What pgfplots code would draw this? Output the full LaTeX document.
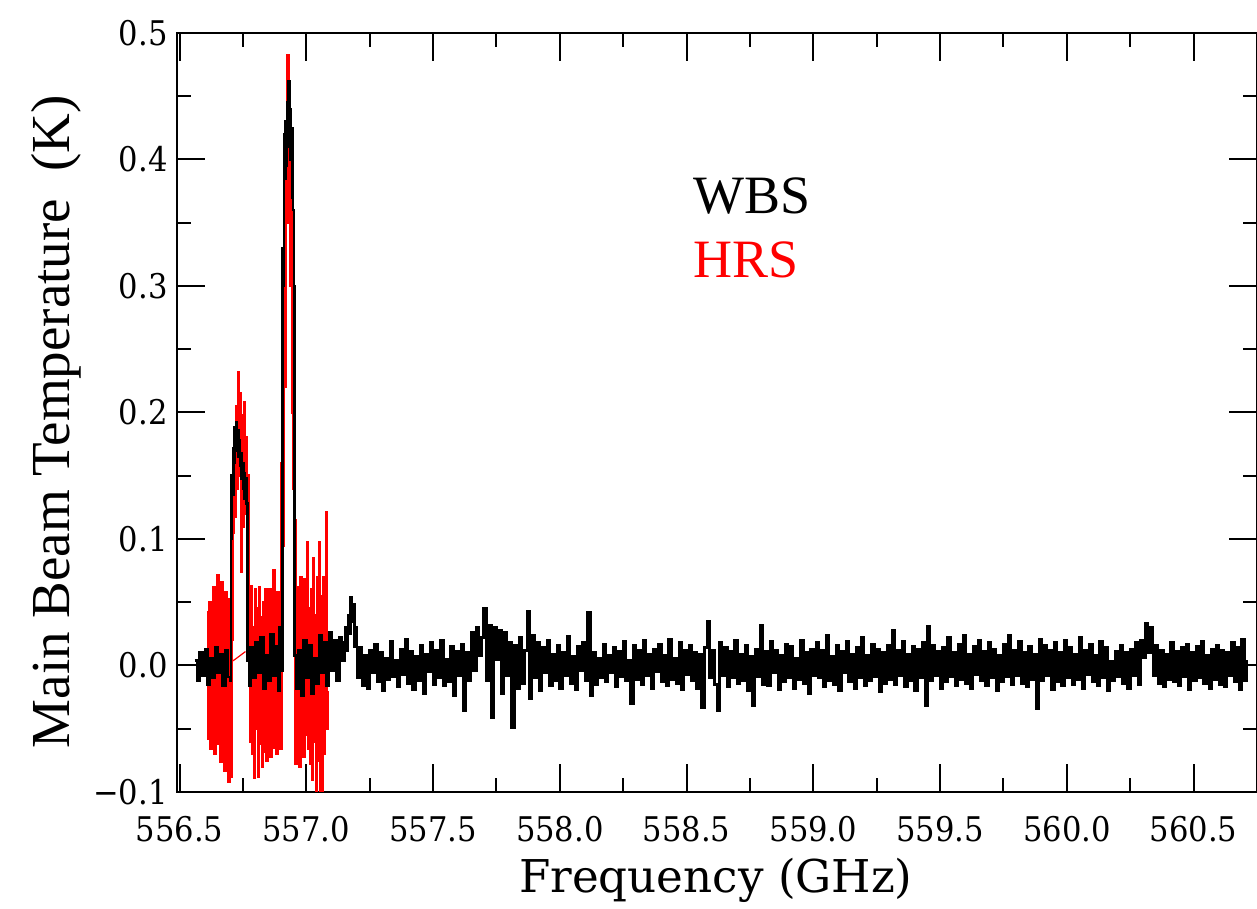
\documentclass[border=0pt]{standalone}
\usepackage{fontspec}
\setmainfont{DejaVu Serif}
\newfontfamily\tickfont{DejaVu Serif Condensed}
\newfontfamily\timesfont{Liberation Serif}
\usepackage{pgfplots}
\pgfplotsset{compat=1.18}
\begin{document}
\begin{tikzpicture}
\begin{axis}[
  at={(0,0)}, anchor=south west,
  scale only axis, width=540pt, height=379.5pt,
  xmin=556.49, xmax=560.75, ymin=-0.1, ymax=0.5,
  xtick={556.5,557,557.5,558,558.5,559,559.5,560,560.5},
  xticklabels={556.5,557.0,557.5,558.0,558.5,559.0,559.5,560.0,560.5},
  ytick={-0.1,0,0.1,0.2,0.3,0.4,0.5},
  yticklabels={−0.1,0.0,0.1,0.2,0.3,0.4,0.5},
  minor x tick num=1, minor y tick num=1,
  tick pos=both, tick align=inside,
  major tick length=14pt, minor tick length=7pt,
  tick style={black, line width=1pt},
  axis line style={black, line width=1pt},
  ticklabel style={font=\tickfont\fontsize{17}{20}\selectfont},
  xticklabel style={yshift=-8.8pt},
  yticklabel style={xshift=-1.2pt},
  xlabel={Frequency (GHz)},
  ylabel={Main Beam Temperature\ \ (K)},
  xlabel style={font=\fontsize{22.6}{26}\selectfont, at={(axis description cs:0.499,-0.1318)}, anchor=base},
  ylabel style={font=\timesfont\fontsize{27.5}{32}\selectfont, at={(axis description cs:-0.0991,0.488)}, anchor=base},
]
% HRS (red)
\addplot[red, line width=1.3pt, const plot, forget plot] coordinates {
(556.610,0.042)(556.614,-0.058)(556.618,0.050)(556.622,-0.066)(556.626,0.038)(556.630,-0.048)(556.634,0.062)(556.638,-0.070)
(556.642,0.055)(556.646,-0.052)(556.650,0.071)(556.654,-0.062)(556.658,0.040)(556.662,-0.076)(556.666,0.066)(556.670,-0.058)
(556.674,0.030)(556.678,-0.083)(556.682,0.058)(556.686,-0.070)(556.690,0.045)(556.694,-0.092)(556.698,0.052)(556.702,-0.088)
(556.706,0.020)
(556.710,0.105)(556.714,0.172)(556.718,0.118)(556.722,0.205)(556.726,0.140)(556.730,0.232)(556.734,0.150)(556.738,0.215)
(556.742,0.074)(556.746,0.198)(556.750,0.110)(556.754,0.208)(556.758,0.120)(556.762,0.180)(556.766,0.098)(556.770,0.150)
(556.774,0.060)
(556.778,-0.060)(556.782,0.063)(556.786,-0.070)(556.790,0.030)(556.794,-0.089)(556.798,0.060)(556.802,-0.050)(556.806,0.045)
(556.810,-0.088)(556.814,0.062)(556.818,-0.062)(556.822,0.038)(556.826,-0.080)(556.830,0.050)(556.834,-0.068)(556.838,0.060)
(556.842,-0.075)(556.846,0.035)(556.850,-0.058)(556.854,0.060)(556.858,-0.072)(556.862,0.048)(556.866,-0.065)(556.870,0.075)
(556.874,-0.056)(556.878,0.040)(556.882,-0.070)(556.886,0.058)(556.890,-0.062)(556.894,0.030)(556.898,-0.066)
(556.902,0.160)(556.906,0.095)(556.910,0.300)(556.914,0.220)(556.918,0.420)(556.922,0.350)(556.926,0.482)(556.930,0.380)
(556.934,0.440)(556.938,0.300)(556.942,0.400)(556.946,0.200)(556.950,0.140)(556.954,0.115)
(556.958,-0.078)(556.962,0.062)(556.966,-0.050)(556.970,0.040)(556.974,-0.080)(556.978,0.070)(556.982,-0.060)(556.986,0.050)
(556.990,-0.072)(556.994,0.068)(556.998,-0.055)(557.002,0.097)(557.006,-0.066)(557.010,0.045)(557.014,-0.078)(557.018,0.060)
(557.022,-0.090)(557.026,0.085)(557.030,-0.060)(557.034,0.040)(557.038,-0.102)(557.042,0.070)(557.046,-0.075)(557.050,0.097)
(557.054,-0.110)(557.058,0.055)(557.062,-0.105)(557.066,0.070)(557.070,-0.070)(557.074,0.060)(557.078,0.121)(557.082,-0.050)
(557.086,-0.020)
};
\addplot[red, line width=0.6pt, forget plot] coordinates {(556.705,0.003)(556.720,0.005)(556.740,0.008)(556.760,0.011)};
% WBS (black)
\addplot[black, line width=1.35pt, const plot, forget plot] coordinates {
(556.56,0.004)(556.57,-0.012)(556.58,0.010)(556.59,-0.008)(556.60,0.013)(556.61,-0.015)(556.62,0.006)(556.63,-0.010)
(556.64,0.014)(556.65,-0.006)(556.66,0.009)(556.67,-0.016)(556.68,0.012)(556.69,-0.009)
(556.700,-0.012)(556.703,0.100)(556.706,0.150)(556.709,0.135)(556.712,0.172)(556.715,0.160)(556.718,0.188)(556.721,0.170)
(556.724,0.192)(556.727,0.175)(556.730,0.186)(556.733,0.165)(556.736,0.178)(556.739,0.158)(556.742,0.168)(556.745,0.148)
(556.748,0.160)(556.751,0.140)(556.754,0.152)(556.757,0.132)(556.760,0.148)(556.763,0.128)(556.767,0.004)
(556.774,-0.016)(556.78,0.014)(556.79,-0.010)(556.80,0.018)(556.81,-0.006)(556.82,0.022)(556.83,-0.018)(556.84,0.008)
(556.85,-0.012)(556.86,0.025)(556.87,-0.008)(556.88,0.015)(556.89,-0.020)(556.895,0.030)
(556.900,-0.004)(556.906,0.330)(556.909,0.300)(556.912,0.420)(556.915,0.385)(556.918,0.430)(556.921,0.395)(556.924,0.445)
(556.927,0.410)(556.930,0.462)(556.933,0.420)(556.936,0.440)(556.939,0.400)(556.942,0.425)(556.945,0.370)(556.948,0.360)
(556.951,0.300)(556.954,0.008)
(556.96,-0.018)(556.97,0.012)(556.98,-0.024)(556.99,0.020)(557.00,-0.010)(557.01,0.016)(557.02,-0.022)(557.03,0.006)
(557.04,-0.014)(557.05,0.024)(557.06,-0.006)(557.07,0.018)(557.08,-0.016)(557.09,0.026)(557.10,-0.004)(557.11,0.020)
(557.12,-0.012)(557.13,0.022)(557.14,0.004)(557.15,0.018)
(557.155,0.030)(557.160,0.012)(557.165,0.040)(557.170,0.025)(557.175,0.054)(557.180,0.035)(557.185,0.048)(557.190,0.015)
(557.195,0.030)(557.200,-0.010)
(557.21,0.014)(557.22,-0.016)(557.23,0.008)(557.24,-0.018)(557.25,0.012)(557.26,-0.006)(557.27,0.017)(557.28,-0.013)(557.29,0.010)(557.30,-0.020)
(557.31,0.006)(557.32,-0.011)(557.33,0.019)(557.34,-0.009)(557.35,0.004)(557.36,-0.017)(557.37,0.013)(557.38,-0.007)(557.39,0.021)(557.40,-0.014)
(557.41,0.011)(557.42,-0.019)(557.43,0.007)(557.44,-0.012)(557.45,0.016)(557.46,-0.022)(557.47,0.009)(557.48,-0.005)(557.49,0.018)(557.50,-0.015)
(557.51,0.012)(557.52,-0.010)(557.53,0.020)(557.54,-0.016)(557.55,0.005)(557.56,-0.013)(557.57,0.015)(557.58,-0.024)(557.59,0.011)(557.60,-0.008)
(557.61,0.017)(557.62,-0.036)(557.63,0.010)(557.64,-0.012)(557.65,0.026)(557.66,-0.004)(557.67,0.030)(557.68,0.008)(557.69,0.022)(557.70,0.045)
(557.71,-0.012)(557.72,0.032)(557.73,-0.041)(557.74,0.030)(557.75,0.005)(557.76,0.028)(557.77,-0.022)(557.78,0.026)(557.79,-0.008)(557.80,0.018)
(557.81,-0.049)(557.82,0.016)(557.83,-0.018)(557.84,0.022)(557.85,-0.014)(557.86,0.012)(557.87,0.043)(557.88,-0.026)(557.89,0.024)(557.90,-0.010)
(557.91,0.018)(557.92,-0.020)(557.93,0.014)(557.94,-0.006)(557.95,0.020)(557.96,-0.016)(557.97,0.009)(557.98,-0.012)(557.99,0.016)(558.00,-0.018)
(558.01,0.010)(558.02,-0.008)(558.03,0.023)(558.04,-0.014)(558.05,0.007)(558.06,-0.019)(558.07,0.015)(558.08,-0.004)(558.09,0.018)(558.10,-0.012)
(558.11,0.042)(558.12,-0.024)(558.13,0.010)(558.14,-0.015)(558.15,0.006)(558.16,-0.010)(558.17,0.017)(558.18,-0.013)(558.19,0.008)(558.20,-0.006)
(558.21,0.014)(558.22,-0.017)(558.23,0.011)(558.24,-0.009)(558.25,0.019)(558.26,-0.012)(558.27,0.004)(558.28,-0.030)(558.29,0.016)(558.30,-0.011)
(558.31,0.012)(558.32,-0.015)(558.33,0.020)(558.34,-0.008)(558.35,0.009)(558.36,-0.018)(558.37,0.013)(558.38,-0.005)(558.39,0.017)(558.40,-0.013)
(558.41,0.008)(558.42,-0.016)(558.43,0.021)(558.44,-0.011)(558.45,0.006)(558.46,-0.014)(558.47,0.018)(558.48,-0.019)(558.49,0.012)(558.50,-0.007)
(558.51,0.016)(558.52,-0.012)(558.53,0.010)(558.54,-0.018)(558.55,0.009)(558.56,-0.033)(558.57,0.014)(558.58,0.035)(558.59,-0.010)(558.60,0.012)
(558.61,-0.015)(558.62,-0.036)(558.63,0.018)(558.64,-0.008)(558.65,0.014)(558.66,-0.017)(558.67,0.011)(558.68,-0.010)(558.69,0.020)(558.70,-0.014)
(558.71,0.009)(558.72,-0.012)(558.73,0.016)(558.74,-0.020)(558.75,0.007)(558.76,-0.032)(558.77,0.013)(558.78,-0.009)(558.79,0.032)(558.80,-0.015)
(558.81,0.011)(558.82,-0.016)(558.83,0.019)(558.84,-0.006)(558.85,0.012)(558.86,-0.019)(558.87,0.008)(558.88,-0.013)(558.89,0.017)(558.90,-0.010)
(558.91,0.015)(558.92,-0.018)(558.93,0.006)(558.94,-0.011)(558.95,0.020)(558.96,-0.014)(558.97,0.010)(558.98,-0.022)(558.99,0.013)(559.00,-0.008)
(559.01,0.018)(559.02,-0.010)(559.03,0.012)(559.04,-0.017)(559.05,0.024)(559.06,-0.012)(559.07,0.007)(559.08,-0.015)(559.09,0.016)(559.10,-0.020)
(559.11,0.011)(559.12,-0.006)(559.13,0.019)(559.14,-0.013)(559.15,0.009)(559.16,-0.018)(559.17,0.014)(559.18,-0.010)(559.19,0.022)(559.20,-0.016)
(559.21,0.008)(559.22,-0.012)(559.23,0.017)(559.24,-0.009)(559.25,0.013)(559.26,-0.021)(559.27,0.010)(559.28,-0.014)(559.29,0.016)(559.30,-0.011)
(559.31,0.028)(559.32,-0.015)(559.33,0.012)(559.34,-0.008)(559.35,0.019)(559.36,-0.017)(559.37,0.009)(559.38,-0.012)(559.39,0.015)(559.40,-0.020)
(559.41,0.013)(559.42,-0.010)(559.43,0.018)(559.44,-0.032)(559.45,0.031)(559.46,-0.012)(559.47,0.016)(559.48,-0.008)(559.49,0.011)(559.50,-0.018)
(559.51,0.014)(559.52,-0.013)(559.53,0.022)(559.54,-0.009)(559.55,0.010)(559.56,-0.016)(559.57,0.017)(559.58,-0.011)(559.59,0.024)(559.60,-0.014)
(559.61,0.009)(559.62,-0.018)(559.63,0.015)(559.64,-0.007)(559.65,0.020)(559.66,-0.012)(559.67,0.011)(559.68,-0.016)(559.69,0.018)(559.70,-0.010)
(559.71,0.013)(559.72,-0.020)(559.73,0.008)(559.74,-0.013)(559.75,0.017)(559.76,-0.009)(559.77,0.024)(559.78,-0.015)(559.79,0.012)(559.80,-0.008)
(559.81,0.019)(559.82,-0.014)(559.83,0.010)(559.84,-0.017)(559.85,0.015)(559.86,-0.011)(559.87,0.009)(559.88,-0.034)(559.89,0.021)(559.90,-0.012)
(559.91,0.016)(559.92,-0.008)(559.93,0.012)(559.94,-0.019)(559.95,0.018)(559.96,-0.013)(559.97,0.010)(559.98,-0.016)(559.99,0.020)(560.00,-0.010)
(560.01,0.014)(560.02,-0.015)(560.03,0.009)(560.04,-0.011)(560.05,0.022)(560.06,-0.018)(560.07,0.012)(560.08,-0.007)(560.09,0.017)(560.10,-0.013)
(560.11,0.008)(560.12,-0.016)(560.13,0.019)(560.14,-0.010)(560.15,0.014)(560.16,-0.020)(560.17,0.003)(560.18,-0.012)(560.19,0.011)(560.20,-0.009)
(560.21,0.016)(560.22,-0.014)(560.23,0.010)(560.24,-0.018)(560.25,0.013)(560.26,-0.008)(560.27,0.018)(560.28,-0.015)(560.29,0.020)(560.30,0.006)
(560.31,0.033)(560.32,0.010)(560.33,0.030)(560.34,-0.008)(560.35,0.016)(560.36,-0.014)(560.37,0.012)(560.38,-0.017)(560.39,0.009)(560.40,-0.011)
(560.41,0.018)(560.42,-0.013)(560.43,0.011)(560.44,-0.016)(560.45,0.014)(560.46,-0.009)(560.47,0.017)(560.48,-0.019)(560.49,0.010)(560.50,-0.012)
(560.51,0.015)(560.52,-0.010)(560.53,0.019)(560.54,-0.014)(560.55,0.008)(560.56,-0.018)(560.57,0.013)(560.58,-0.011)(560.59,0.016)(560.60,-0.015)
(560.61,0.012)(560.62,-0.017)(560.63,0.010)(560.64,-0.008)(560.65,0.018)(560.66,-0.013)(560.67,0.014)(560.68,-0.019)(560.69,0.021)(560.70,-0.012)
(560.71,0.004)
};
\node[anchor=base west, font=\timesfont\fontsize{27}{32}\selectfont] at (axis cs:558.50,0.357) {WBS};
\node[anchor=base west, text=red, font=\timesfont\fontsize{27}{32}\selectfont] at (axis cs:558.50,0.307) {HRS};
\end{axis}
\pgfresetboundingbox
\useasboundingbox (-88.5pt,-58.5pt) rectangle (540pt,396pt);
\end{tikzpicture}
\end{document}
